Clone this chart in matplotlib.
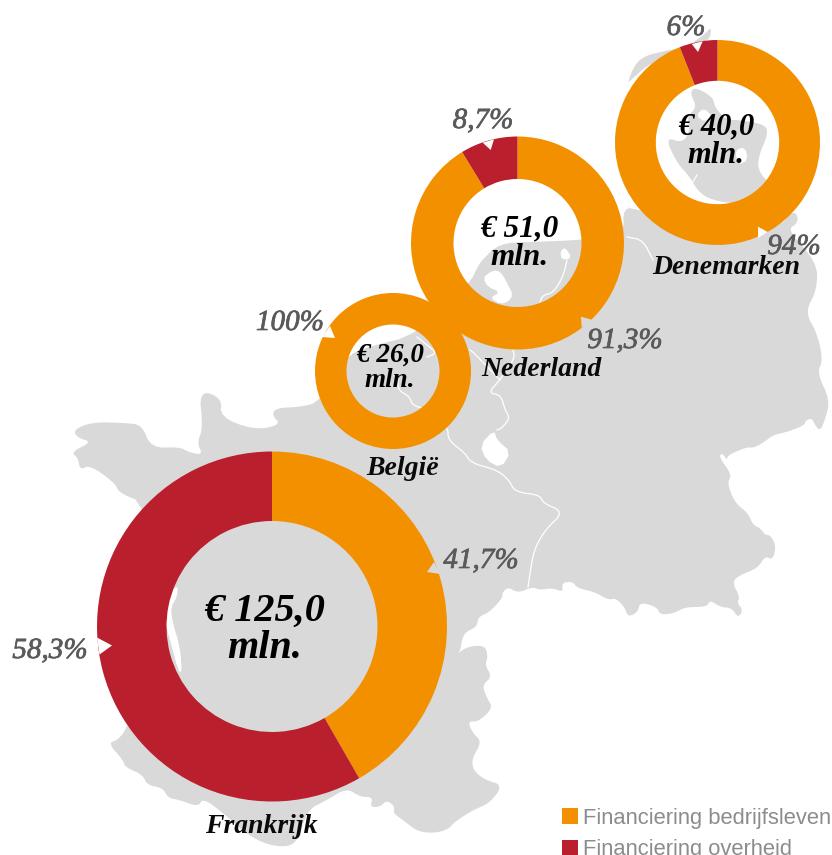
import matplotlib
matplotlib.use("Agg")
import matplotlib.pyplot as plt
import matplotlib.patheffects as pe
from matplotlib.patches import Polygon, Patch

# ---- data ----
countries = ["Frankrijk", "België", "Nederland", "Denemarken"]
totals = ["€ 125,0", "€ 26,0", "€ 51,0", "€ 40,0"]
bedrijfsleven = [41.7, 100.0, 91.3, 94.0]
overheid = [58.3, 0.0, 8.7, 6.0]
bedrijf_labels = ["41,7%", "100%", "91,3%", "94%"]
overheid_labels = ["58,3%", None, "8,7%", "6%"]
legend_labels = ["Financiering bedrijfsleven", "Financiering overheid"]

ORANGE, RED, GREY, TXT = "#F39000", "#B91F2C", "#D9D9D9", "#5A5A5A"
W, H = 832, 855
SERIF = "Liberation Serif"

# layout in pixels: centre x, centre y, outer radius, inner radius
rings = [(272, 626.5, 175, 105.5), (393, 371, 78, 46.5),
         (517.5, 243, 106.5, 64), (717.5, 142.5, 102.5, 61.7)]
centre_pos = [(265, 630, 29), (390, 368, 19.5), (519, 243, 22.5), (716, 141, 22)]
name_pos = [(261, 826), (403, 468), (541, 369), (726, 267)]
b_pos = [(481, 561), (290, 323), (625, 341), (794, 247)]
o_pos = [(50, 651), None, (483, 121), (686, 28)]

# background map outline, traced in pixels
mainland = [
 (73,430),(92,422),(126,423),(142,425),(151,448),(180,447),(188,452),(203,455),(197,443),(203,428),
 (199,390),(222,398),(220,417),(254,430),(281,425),(272,415),(276,408),(300,407),(320,402),(345,357),
 (367,347),(417,335),(470,283),(477,268),(482,260),(500,243),(533,242),(580,240),(624,236),(623,207),
 (640,210),(700,225),(780,227),(790,213),(797,213),(798,223),(787,230),(817,262),(817,290),(805,312),
 (817,333),(823,360),(817,373),(830,400),(825,420),(820,431),(815,425),(812,418),(805,421),(805,425),
 (787,432),(773,435),(763,443),(753,448),(747,447),(728,455),(727,460),(722,453),(719,457),(732,475),
 (727,483),(735,503),(748,513),(753,525),(760,528),(765,535),(770,535),(776,545),(773,560),(765,556),
 (758,568),(740,575),(732,582),(740,597),(737,603),(743,610),(738,618),(732,608),(720,607),(710,600),
 (707,607),(685,607),(675,613),(660,615),(657,607),(640,602),(638,612),(628,617),(625,608),(616,598),
 (608,600),(595,592),(577,588),(573,582),(565,582),(562,585),(563,592),(552,588),(540,590),(532,587),
 (518,593),(508,587),(502,593),(503,597),(490,612),(478,617),(477,627),(463,633),(460,653),(453,659),
 (465,647),(485,645),(488,657),(485,665),(492,677),(482,685),(487,698),(493,708),(478,722),(468,721),
 (472,732),(482,742),(472,758),(473,770),(485,780),(503,785),(490,803),(473,810),(453,823),(450,828),
 (437,833),(418,832),(403,820),(393,813),(395,807),(387,800),(380,807),(370,807),(373,797),(360,797),
 (347,788),(327,800),(307,810),(297,845),(275,847),(250,837),(223,813),(203,798),(198,807),(180,800),
 (168,798),(163,788),(147,785),(143,775),(125,767),(123,760),(108,743),(118,740),(127,728),(160,650),
 (164,620),(145,503),(119,493),(115,483),(90,465),(80,470),(78,458),(71,452),(92,442),(78,438)]
land_extra = [
 [(627,84),(635,64),(645,56),(660,52),(680,48),(675,58),(650,63),(633,78)],
 [(691,43),(703,36),(712,26),(709,42)],
 [(695,87),(713,97),(715,108),(727,120),(740,120),(767,125),(767,137),(760,152),(757,170),(773,187),
  (777,195),(745,205),(710,200),(697,190),(690,177),(677,163),(665,137),(683,143),(690,130),(687,117),
  (697,107),(690,93)],
]
water = [
 [(178,586),(172,590),(166,607),(165,622),(170,640),(178,670),(182,673),(180,647),(172,620),(171,607),(177,597)],
 [(494,430),(497,440),(511,452),(501,468),(486,460),(480,445)],
 [(497,270),(503,275),(508,285),(513,295),(508,302),(500,304),(490,298),(500,292),(488,287),(483,278),(490,272)],
 [(565,247),(572,258),(562,260),(560,252)],
 [(696,115),(704,108),(712,116),(704,122)],
 [(735,150),(745,147),(748,160),(738,165)],
]
borders = [
 [(398,378),(398,390),(410,397),(412,405),(428,410),(448,427),(448,440),(465,453),(471,463),(497,470),
  (509,480),(515,492),(540,495),(543,503),(564,512),(545,530),(534,550),(530,573),(528,587)],
 [(513,350),(515,358),(500,380),(488,393),(501,395),(505,410),(510,418),(502,428),(497,430)],
 [(470,350),(473,352),(500,380)],
 [(417,337),(427,345),(437,353),(427,357)],
 [(567,260),(563,277),(553,293),(543,295),(540,302)],
 [(627,237),(643,240),(653,260)],
 [(688,190),(697,175)],
]
notches = [
 [(434,562),(427,572),(440,574),GREY], [(97,637.5),(112,645.5),(99.5,654.5),"white"],
 [(330,326),(335,338),(322,337),"white"],
 [(581,316.7),(581.7,328),(592.7,320),GREY], [(482.7,142.7),(490.7,150),(494,139.3),"white"],
 [(758,226.7),(758,238),(767.7,232),"white"], [(691.7,44),(698,52),(702.7,41.3),"white"],
]

def soften(pts, closed=True, passes=2):
    """Round the corners of a traced outline (map background only)."""
    for _ in range(passes):
        out = []
        n = len(pts)
        for i in range(n if closed else n - 1):
            (x0, y0), (x1, y1) = pts[i], pts[(i + 1) % n]
            out += [(0.75 * x0 + 0.25 * x1, 0.75 * y0 + 0.25 * y1),
                    (0.25 * x0 + 0.75 * x1, 0.25 * y0 + 0.75 * y1)]
        pts = out if closed else [pts[0]] + out + [pts[-1]]
    return pts

fig = plt.figure(figsize=(W / 100, H / 100), dpi=100, facecolor="white")
bg = fig.add_axes([0, 0, 1, 1])
bg.set_xlim(0, W); bg.set_ylim(H, 0); bg.axis("off")
bg.add_patch(Polygon(soften(mainland), closed=True, fc=GREY, ec="none"))
for p in land_extra:
    bg.add_patch(Polygon(soften(p), closed=True, fc=GREY, ec="none"))
for p in water:
    bg.add_patch(Polygon(soften(p, passes=1), closed=True, fc="white", ec="none"))
for b in borders:
    bg.plot(*zip(*soften(b, closed=False)), color="white", lw=0.9, solid_joinstyle="round")

# doughnuts
for (cx, cy, R, r), a, b in zip(rings, bedrijfsleven, overheid):
    ax = fig.add_axes([(cx - R) / W, 1 - (cy + R) / H, 2 * R / W, 2 * R / H])
    ax.pie([a, b], colors=[ORANGE, RED], startangle=90, counterclock=False, radius=1,
           wedgeprops=dict(width=1 - r / R, linewidth=0))
    ax.set_xlim(-1, 1); ax.set_ylim(-1, 1); ax.patch.set_alpha(0)

top = fig.add_axes([0, 0, 1, 1])
top.set_xlim(0, W); top.set_ylim(H, 0); top.axis("off"); top.patch.set_alpha(0)
for *pts, c in notches:
    top.add_patch(Polygon(pts, closed=True, fc=c, ec="none"))

for t, (x, y, fs) in zip(totals, centre_pos):
    top.text(x, y, t + "\nmln.", ha="center", va="center", family=SERIF, style="italic",
             weight="bold", fontsize=fs, color="black", linespacing=1.0)
for n, (x, y) in zip(countries, name_pos):
    top.text(x, y, n, ha="center", va="center", family=SERIF, style="italic",
             weight="bold", fontsize=20, color="#0a0a0a")
for lab, pos in zip(bedrijf_labels + overheid_labels, b_pos + o_pos):
    if lab:
        top.text(pos[0], pos[1], lab, ha="center", va="center", family=SERIF, style="italic",
                 fontsize=21, color=TXT,
                 path_effects=[pe.withStroke(linewidth=0.5, foreground=TXT)])

handles = [Patch(fc=ORANGE, ec="none"), Patch(fc=RED, ec="none")]
fig.legend(handles, legend_labels, loc="upper left", bbox_to_anchor=(555 / W, 1 - 801 / H),
           frameon=False, labelcolor="#8C8C8C", handlelength=0.73, handleheight=0.73,
           handletextpad=0.25, labelspacing=0.48, borderpad=0.3, borderaxespad=0,
           prop=dict(family="Liberation Sans", size=15.8))
fig.savefig("out.png", dpi=100)
